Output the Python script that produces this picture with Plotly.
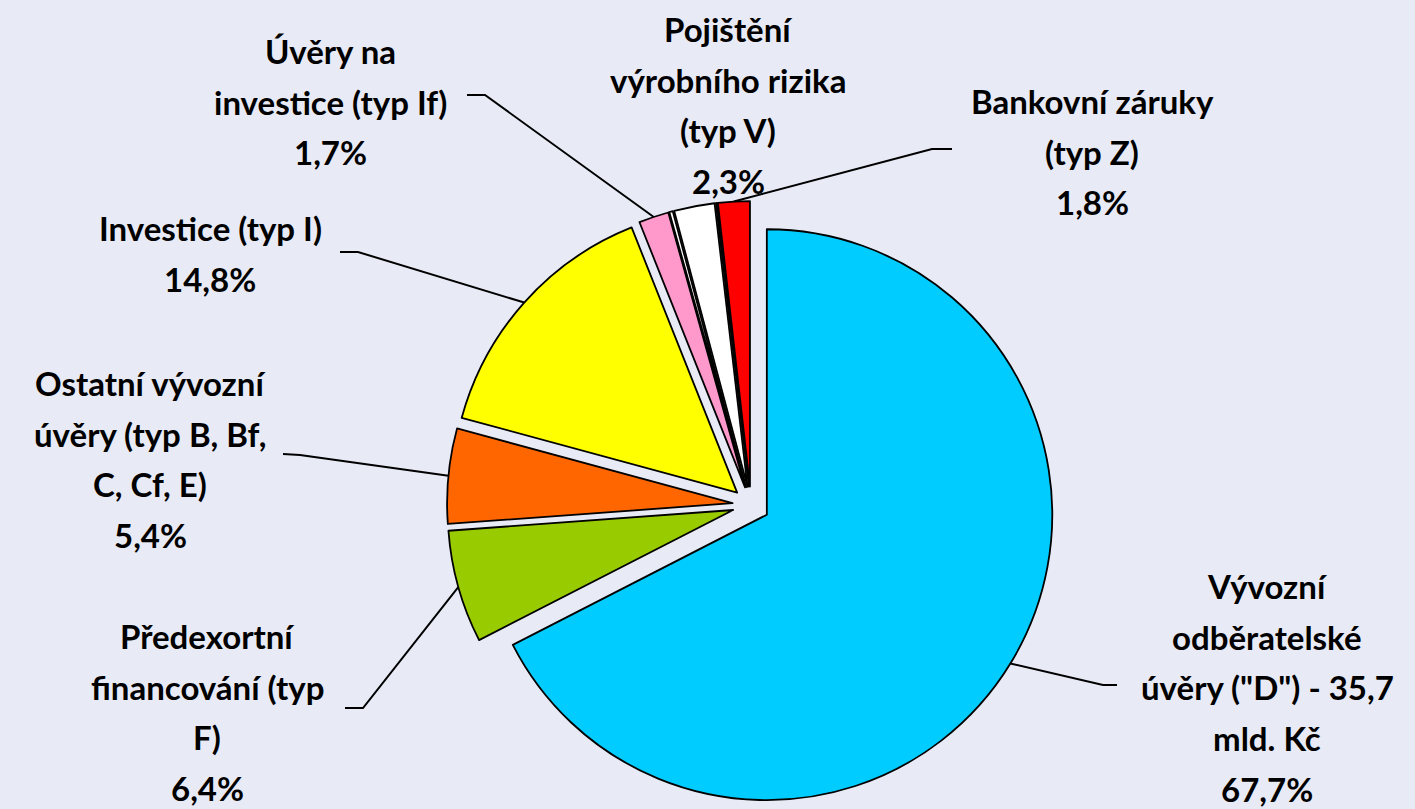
import math
import plotly.graph_objects as go

# ---- data ----
categories = [
    "Vývozní\nodběratelské\núvěry (\"D\") - 35,7\nmld. Kč",
    "Předexortní\nfinancování (typ\nF)",
    "Ostatní vývozní\núvěry (typ B, Bf,\nC, Cf, E)",
    "Investice (typ I)",
    "Úvěry na\ninvestice (typ If)",
    "",
    "Pojištění\nvýrobního rizika\n(typ V)",
    "",
    "Bankovní záruky\n(typ Z)",
]
values = [67.7, 6.4, 5.4, 14.8, 1.7, 0.2, 2.3, 0.05, 1.8]
colors = ["#00CCFF", "#99CC00", "#FF6600", "#FFFF00", "#FF99CC",
          "#FFFFFF", "#FFFFFF", "#FFFFFF", "#FF0000"]

# ---- layout / styling ----
W, H = 1415, 809
BG = "#E8EBF6"
FONT = "Lato"
FS = 33
LINE_H = 50.7
PULL = 0.065
CX, CY = 751, 505          # pie centre in px
HALF = 304                  # half size of pie domain box in px

# label anchors: (x centre, y of first line middle), None = no label
label_pos = [(1267, 586), (207, 636), (150, 383), (210, 228), (330, 51),
             None, (728, 29), None, (1092, 101)]
# leader lines: (label end, elbow) in px, None = no leader
leaders = [((1117, 685), (1103, 685)), ((345, 708), (363, 708)),
           ((283, 454), (300, 455)), ((340, 252), (358, 252)),
           ((467, 95), (485, 95)), None, None, None,
           ((952, 149), (932, 149))]


def px2paper(x, y):
    return x / W, 1 - y / H


names = [c.replace("\n", " ") if c else f"_{i}" for i, c in enumerate(categories)]

fig = go.Figure(go.Pie(
    labels=names, values=values, sort=False, direction="clockwise", rotation=0,
    marker=dict(colors=colors, line=dict(color="black", width=1.8)),
    pull=[PULL] * len(values), textinfo="none", hoverinfo="label+percent",
    domain=dict(x=[(CX - HALF) / W, (CX + HALF) / W], y=[0, 2 * HALF / H]),
    showlegend=False,
))

annotations = []
shapes = []
total = sum(values)
r = HALF / (1 + PULL)
cum = 0.0
for i, (cat, v) in enumerate(zip(categories, values)):
    mid = (cum + v / 2) / total * 2 * math.pi
    cum += v
    if label_pos[i] is None:
        continue
    lines = cat.split("\n") + [f"{v:.1f}".replace(".", ",") + "%"]
    lx, ly = label_pos[i]
    for k, t in enumerate(lines):
        xp, yp = px2paper(lx, ly + k * LINE_H)
        annotations.append(dict(
            x=xp, y=yp, xref="paper", yref="paper", text=t, showarrow=False,
            xanchor="center", yanchor="middle",
            font=dict(family=FONT, size=FS, color="black", weight="bold")))
    if leaders[i] is not None:
        (ex, ey), (bx, by) = leaders[i]
        sx = CX + (r * PULL + r) * math.sin(mid)
        sy = CY - (r * PULL + r) * math.cos(mid)
        pts = [px2paper(ex, ey), px2paper(bx, by), px2paper(sx, sy)]
        path = "M {} {} L {} {} L {} {}".format(*[c for p in pts for c in p])
        shapes.append(dict(type="path", xref="paper", yref="paper", path=path,
                           line=dict(color="black", width=2)))

fig.update_layout(
    width=W, height=H, margin=dict(l=0, r=0, t=0, b=0),
    paper_bgcolor=BG, plot_bgcolor=BG,
    annotations=annotations, shapes=shapes,
)
fig.write_html(
    "out.html",
    config={"displayModeBar": False},
    post_script="document.body.style.margin='0';document.body.style.overflow='hidden';",
)
